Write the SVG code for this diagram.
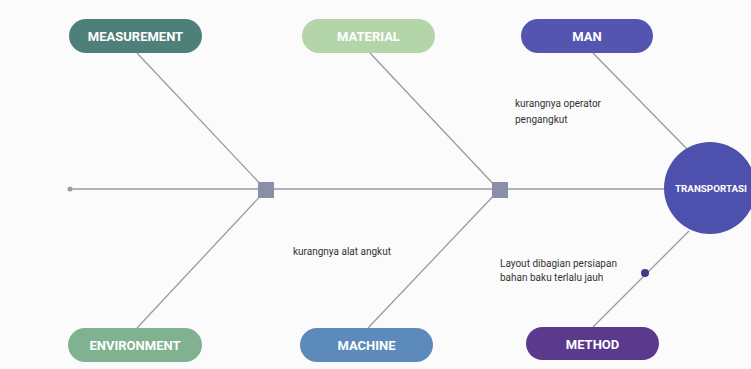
<svg xmlns="http://www.w3.org/2000/svg" width="751" height="369" viewBox="0 0 751 369">
<style>
.lbl{font-family:Roboto,"Liberation Sans",sans-serif;font-weight:bold;font-size:13px;fill:#ffffff;text-anchor:middle;dominant-baseline:central}
.note{font-family:Roboto,"Liberation Sans",sans-serif;font-size:10px;fill:#333333}
.ln{stroke:#9a9aa6;stroke-width:1.3;fill:none}
</style>
<rect width="751" height="369" fill="#fbfbfb"/>
<g id="connectors">
<line class="ln" x1="70" y1="189" x2="666" y2="189"/>
<line class="ln" x1="137" y1="53" x2="266" y2="190"/>
<line class="ln" x1="370" y1="53" x2="499" y2="190"/>
<line class="ln" x1="593" y1="53" x2="688" y2="150"/>
<line class="ln" x1="137" y1="328" x2="266" y2="190"/>
<line class="ln" x1="368" y1="328" x2="499" y2="190"/>
<line class="ln" x1="593" y1="327" x2="689" y2="231"/>
<circle cx="70" cy="189" r="2.5" fill="#9a9aa6"/>
<circle cx="645" cy="273" r="4" fill="#4d3580"/>
</g>
<g id="bone1"><rect x="258" y="182" width="16" height="16" fill="#8a8ea8"/></g>
<g id="bone2"><rect x="492" y="182" width="16" height="16" fill="#8a8ea8"/></g>
<g id="measurement"><rect x="69" y="19" width="133" height="34" rx="17" fill="#4f7f79"/><text class="lbl" x="135.5" y="36">MEASUREMENT</text></g>
<g id="material"><rect x="302" y="19" width="133" height="34" rx="17" fill="#b4d5a9"/><text class="lbl" x="368.5" y="36">MATERIAL</text></g>
<g id="man"><rect x="521" y="19" width="132" height="34" rx="17" fill="#5355b1"/><text class="lbl" x="587" y="36">MAN</text></g>
<g id="environment"><rect x="68" y="328" width="134" height="34" rx="17" fill="#80b190"/><text class="lbl" x="135" y="345">ENVIRONMENT</text></g>
<g id="machine"><rect x="300" y="328" width="133" height="34" rx="17" fill="#5c8aba"/><text class="lbl" x="366.5" y="345">MACHINE</text></g>
<g id="method"><rect x="526" y="327" width="133" height="33" rx="16.5" fill="#5a3a8c"/><text class="lbl" x="592.5" y="344">METHOD</text></g>
<g id="transportasi"><circle cx="710" cy="188" r="46" fill="#4e50ae"/><text class="lbl" x="711" y="188" style="font-size:9.8px">TRANSPORTASI</text></g>
<g id="notes">
<text class="note" x="515" y="107">kurangnya operator</text>
<text class="note" x="515" y="123">pengangkut</text>
<text class="note" x="293" y="255">kurangnya alat angkut</text>
<text class="note" x="500" y="267">Layout dibagian persiapan</text>
<text class="note" x="500" y="281">bahan baku terlalu jauh</text>
</g>
</svg>
